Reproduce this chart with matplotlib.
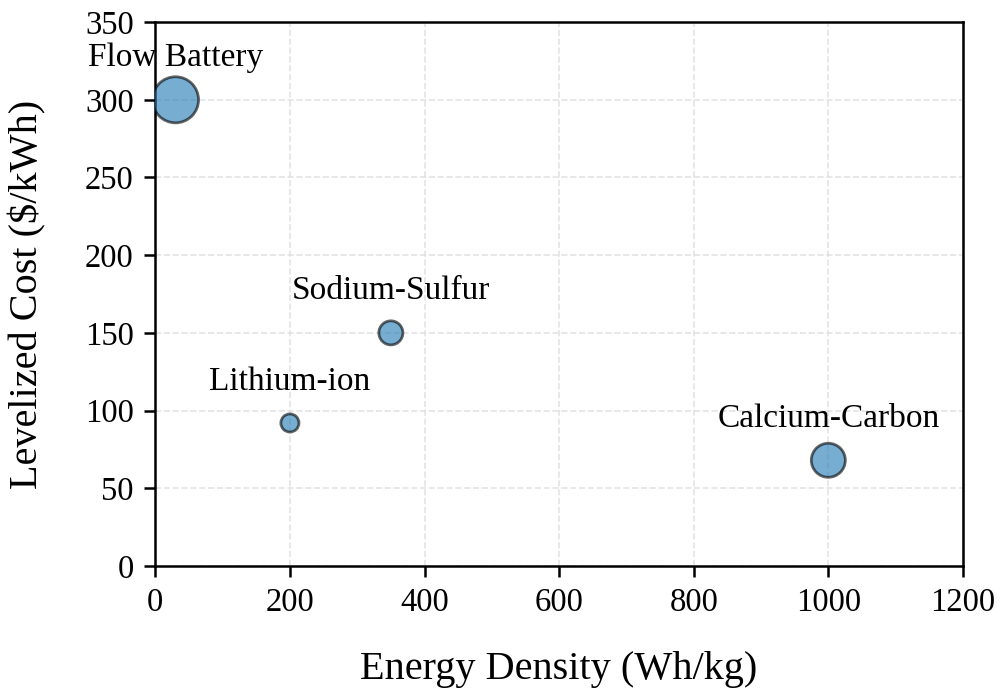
import matplotlib.pyplot as plt

plt.rcParams['font.family'] = ['Liberation Serif', 'DejaVu Serif']

# Data
technologies = ["Flow Battery", "Sodium-Sulfur", "Lithium-ion", "Calcium-Carbon"]
energy_density = [30, 350, 200, 1000]      # Wh/kg
levelized_cost = [300, 150, 92, 68]        # $/kWh
bubble_size = [1100, 300, 170, 600]

fig, ax = plt.subplots(figsize=(10.02, 6.91), dpi=100)
fig.subplots_adjust(left=0.155, right=0.961, top=0.968, bottom=0.181)

ax.scatter(energy_density, levelized_cost, s=bubble_size, color='#1f77b4',
           alpha=0.6, edgecolors='black', linewidths=2, zorder=3)

for name, x, y in zip(technologies, energy_density, levelized_cost):
    ax.annotate(name, (x, y), xytext=(0, 30), textcoords='offset points',
                ha='center', va='center', fontsize=24)

ax.set_xlim(0, 1200)
ax.set_ylim(0, 350)
ax.set_xticks(range(0, 1201, 200))
ax.set_yticks(range(0, 351, 50))

ax.set_xlabel("Energy Density (Wh/kg)", fontsize=29, labelpad=24)
ax.set_ylabel("Levelized Cost ($/kWh)", fontsize=29, labelpad=28)
ax.tick_params(labelsize=23.5, width=1.8, length=8, pad=7.5)
for sp in ax.spines.values():
    sp.set_linewidth(1.8)

ax.grid(True, linestyle='--', color='#dddddd', linewidth=1.2, alpha=0.8)
ax.set_axisbelow(True)

plt.savefig("out.png")
